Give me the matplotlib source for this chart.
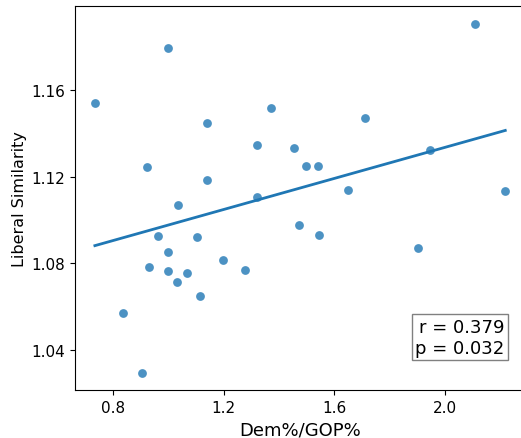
import numpy as np
import matplotlib
matplotlib.use('Agg')
import matplotlib.pyplot as plt

# Dem%/GOP% ratio vs liberal similarity
dem_gop = [0.998, 0.734, 1.372, 1.140, 1.319, 1.455, 0.921, 1.140, 1.319,
           2.108, 1.712, 1.498, 1.540, 1.945, 1.650, 2.219,
           1.033, 1.474, 0.964, 1.102, 0.998, 0.929, 1.198, 0.998, 1.067,
           1.279, 1.032, 1.114, 0.836, 0.904, 1.544, 1.902]
lib_sim = [1.1793, 1.1540, 1.1517, 1.1449, 1.1346, 1.1332, 1.1247, 1.1184, 1.1107,
           1.1908, 1.1470, 1.1250, 1.1250, 1.1322, 1.1137, 1.1134,
           1.1070, 1.0977, 1.0928, 1.0920, 1.0851, 1.0783, 1.0814, 1.0764, 1.0754,
           1.0771, 1.0713, 1.0650, 1.0572, 1.0292, 1.0929, 1.0869]
x_ticks = [0.8, 1.2, 1.6, 2.0]
y_ticks = [1.04, 1.08, 1.12, 1.16]
stats_text = 'r = 0.379\np = 0.032'

x = np.array(dem_gop)
y = np.array(lib_sim)

fig = plt.figure(figsize=(5.21, 4.39), dpi=100)
ax = fig.add_axes([0.1434, 0.1093, 0.8662, 0.8747])

ax.scatter(x, y, s=40, color='C0', alpha=0.8, linewidths=0)

# linear fit
m, b = np.polyfit(x, y, 1)
xs = np.linspace(x.min(), x.max(), 100)
ax.plot(xs, m * xs + b, color='C0', lw=2)

ax.set_xticks(x_ticks)
ax.set_yticks(y_ticks)
ax.set_xticklabels(['%.1f' % t for t in x_ticks])
ax.set_yticklabels(['%.2f' % t for t in y_ticks])
ax.tick_params(labelsize=11)
ax.set_xlim(0.661, 2.294)
ax.set_ylim(1.0214, 1.1989)

ax.set_xlabel('Dem%/GOP%', fontsize=13)
ax.set_ylabel('Liberal Similarity', fontsize=11.5, labelpad=3)

ax.text(2.2158, 1.0368, stats_text, ha='right', va='bottom', fontsize=13,
        multialignment='right',
        bbox=dict(boxstyle='square,pad=0.2', fc='white', ec='grey'))

fig.savefig('out.png', dpi=100)
